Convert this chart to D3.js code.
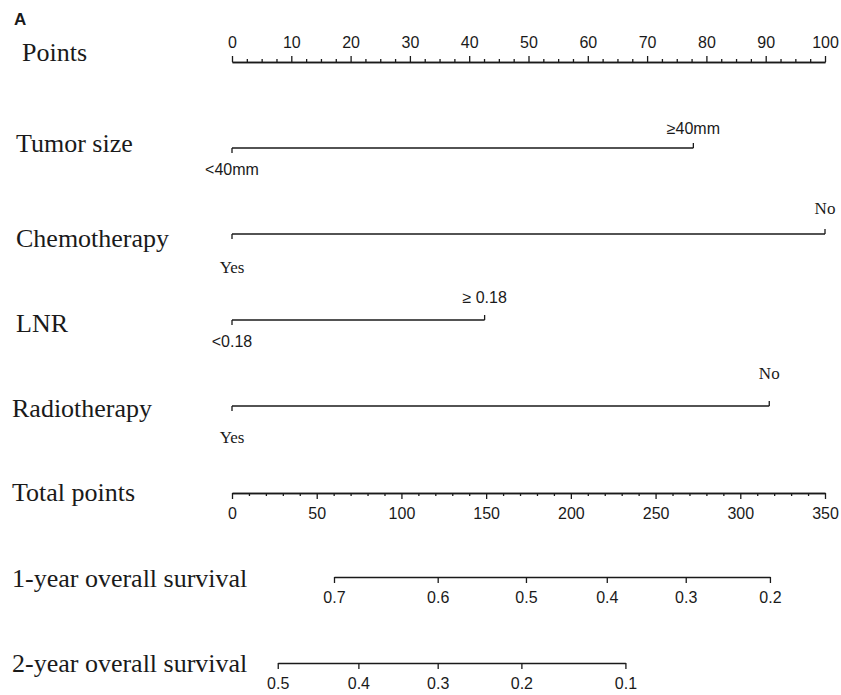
<!DOCTYPE html>
<html>
<head>
<meta charset="utf-8">
<script src="https://cdn.jsdelivr.net/npm/d3@7"></script>
<style>
  html, body { margin: 0; padding: 0; background: #fff; }
  svg { display: block; }
</style>
</head>
<body>
<svg id="chart" width="841" height="695"></svg>
<script>
// Nomogram: points contributed by each predictor and survival probabilities
const pointTicks = [0, 10, 20, 30, 40, 50, 60, 70, 80, 90, 100];
const totalTicks = [0, 50, 100, 150, 200, 250, 300, 350];

// Predictor rows: level labels and their points (0-100 scale)
const tumorLevels = ["<40mm", "\u226540mm"];
const tumorPoints = [0, 77.8];
const chemoLevels = ["Yes", "No"];
const chemoPoints = [0, 100];
const lnrLevels = ["<0.18", "\u2265 0.18"];
const lnrPoints = [0, 42.6];
const radioLevels = ["Yes", "No"];
const radioPoints = [0, 90.6];

// Survival probabilities and the total points where each falls
const surv1Values = [0.7, 0.6, 0.5, 0.4, 0.3, 0.2];
const surv1Total = [60.2, 121.4, 173.5, 221.2, 267.8, 317.5];
const surv2Values = [0.5, 0.4, 0.3, 0.2, 0.1];
const surv2Total = [27.0, 74.6, 121.4, 170.8, 232.2];

const svg = d3.select("#chart");
const x0 = 232, x1 = 825;
const ink = "#1a1a1a";
const serif = "'Liberation Serif', 'Times New Roman', serif";
const sans = "'Liberation Sans', Arial, sans-serif";

const xPoints = d3.scaleLinear().domain([0, 100]).range([x0, x1]);
const xTotal = d3.scaleLinear().domain([0, 350]).range([x0, x1]);

function styleAxis(g) {
  g.attr("font-size", 16).attr("font-family", sans);
  g.selectAll("path, line").attr("stroke", ink).attr("stroke-width", 1.3);
  g.selectAll("text").attr("fill", ink);
}

// Panel tag
svg.append("text").attr("x", 14).attr("y", 25).text("A")
  .attr("font-family", sans).attr("font-weight", "bold").attr("font-size", 17)
  .attr("fill", ink);

// Row titles
const rowTitles = [
  ["Points", 22, 52],
  ["Tumor size", 16, 143],
  ["Chemotherapy", 16, 238],
  ["LNR", 16, 323],
  ["Radiotherapy", 12, 408],
  ["Total points", 12, 492],
  ["1-year overall survival", 12, 578],
  ["2-year overall survival", 12, 663]
];
svg.selectAll("text.row").data(rowTitles).join("text")
  .attr("class", "row")
  .attr("x", d => d[1])
  .attr("y", d => d[2])
  .attr("dy", "0.35em")
  .attr("font-family", serif).attr("font-size", 26).attr("fill", ink)
  .text(d => d[0]);

// Points axis (top)
const pointsY = 62;
const minorPts = d3.range(0, 100.01, 2.5).filter(v => v % 10 !== 0);
svg.append("g").attr("transform", `translate(0,${pointsY})`)
  .call(d3.axisTop(xPoints).tickValues(minorPts).tickSize(3).tickSizeOuter(0).tickFormat(""))
  .call(styleAxis);
svg.append("g").attr("transform", `translate(0,${pointsY})`)
  .call(d3.axisTop(xPoints).tickValues(pointTicks).tickSize(6).tickSizeOuter(0).tickPadding(8))
  .call(styleAxis);

// Predictor rows
function predictorRow(levels, pts, y, fontFam, fontSize, offUp, offDown) {
  const g = svg.append("g");
  const xs = pts.map(p => xPoints(p));
  g.append("line")
    .attr("x1", d3.min(xs)).attr("x2", d3.max(xs))
    .attr("y1", y).attr("y2", y)
    .attr("stroke", ink).attr("stroke-width", 1.3);
  levels.forEach((lab, i) => {
    const up = i % 2 === 1;
    g.append("line")
      .attr("x1", xs[i]).attr("x2", xs[i])
      .attr("y1", y).attr("y2", up ? y - 5 : y + 5)
      .attr("stroke", ink).attr("stroke-width", 1.3);
    g.append("text")
      .attr("x", xs[i]).attr("y", up ? y - offUp : y + offDown)
      .attr("dy", "0.35em").attr("text-anchor", "middle")
      .attr("font-family", fontFam).attr("font-size", fontSize).attr("fill", ink)
      .text(lab);
  });
}
predictorRow(tumorLevels, tumorPoints, 148, sans, 16, 20, 21);
predictorRow(chemoLevels, chemoPoints, 234, serif, 17, 26, 33);
predictorRow(lnrLevels, lnrPoints, 320, sans, 16, 23, 21);
predictorRow(radioLevels, radioPoints, 406, serif, 17, 33, 31);

// Total points axis
const totalY = 493;
const minorTot = d3.range(0, 351, 10).filter(v => v % 50 !== 0);
svg.append("g").attr("transform", `translate(0,${totalY})`)
  .call(d3.axisBottom(xTotal).tickValues(minorTot).tickSize(3).tickSizeOuter(0).tickFormat(""))
  .call(styleAxis);
svg.append("g").attr("transform", `translate(0,${totalY})`)
  .call(d3.axisBottom(xTotal).tickValues(totalTicks).tickSize(6).tickSizeOuter(0).tickPadding(9))
  .call(styleAxis);

// Survival axes: probability -> position through the total points scale
function survivalAxis(vals, totals, y) {
  const s = d3.scaleLinear().domain(vals).range(totals.map(t => xTotal(t)));
  svg.append("g").attr("transform", `translate(0,${y})`)
    .call(d3.axisBottom(s).tickValues(vals).tickSize(6).tickSizeOuter(0)
      .tickPadding(9).tickFormat(d3.format(".1f")))
    .call(styleAxis);
}
survivalAxis(surv1Values, surv1Total, 577);
survivalAxis(surv2Values, surv2Total, 663);
</script>
</body>
</html>
